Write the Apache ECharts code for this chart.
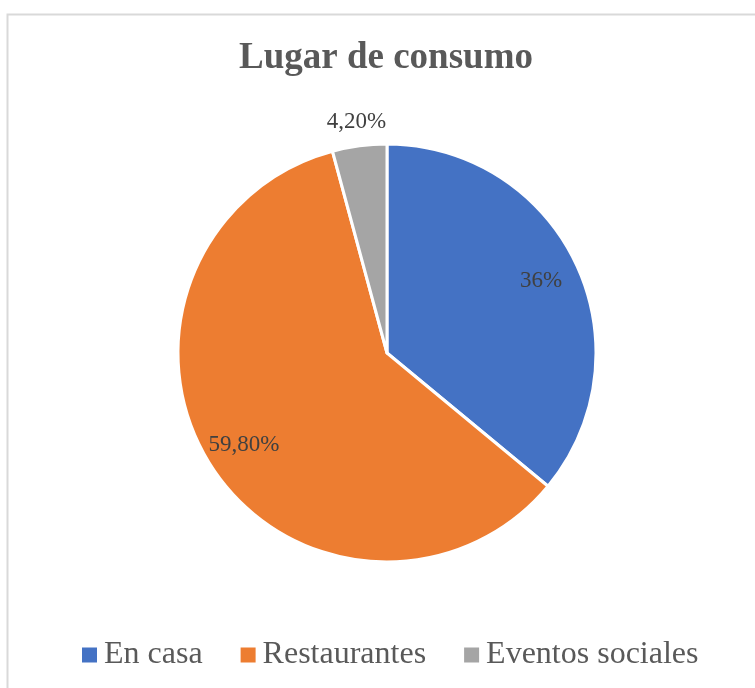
<!DOCTYPE html>
<html>
<head>
<meta charset="utf-8">
<script src="https://cdn.jsdelivr.net/npm/echarts@6/dist/echarts.min.js"></script>
<style>
  html, body { margin: 0; padding: 0; background: #fff; }
  #chart { width: 755px; height: 688px; }
</style>
</head>
<body>
<div id="chart"></div>
<script>
// data
const categories = ['En casa', 'Restaurantes', 'Eventos sociales']
const values = [36, 59.8, 4.2]
const labels = ['36%', '59,80%', '4,20%']
const colors = ['#4472C4', '#ED7D31', '#A5A5A5']

const serif = "'Liberation Serif', 'Times New Roman', serif"
const center = [387, 353]
const R = 209

const chart = echarts.init(document.getElementById('chart'))

// visible slices
const pieData = categories.map((name, i) => ({
  name: name,
  value: values[i],
  itemStyle: { color: colors[i] }
}))

// invisible copies used only to place the labels at a chosen radius
function labelData (showIdx) {
  return categories.map((name, i) => ({
    name: name,
    value: values[i],
    itemStyle: { color: 'rgba(0,0,0,0)', borderWidth: 0 },
    label: { show: showIdx.indexOf(i) >= 0, formatter: labels[i] }
  }))
}

const labelStyle = {
  position: 'inside',
  fontFamily: serif,
  fontSize: 23,
  color: '#404040'
}

chart.setOption({
  animation: false,
  title: {
    text: 'Lugar de consumo',
    left: 234,
    top: 35,
    textStyle: {
      fontFamily: serif,
      fontWeight: 'bold',
      fontSize: 37,
      color: '#595959'
    }
  },
  legend: {
    bottom: 12,
    left: 75,
    icon: 'rect',
    itemWidth: 17,
    itemHeight: 17,
    itemGap: 36,
    data: categories,
    textStyle: {
      fontFamily: serif,
      fontSize: 32,
      color: '#595959',
      padding: [0, 0, 0, 1]
    }
  },
  graphic: [{
    type: 'rect',
    left: 5,
    top: 12,
    shape: { width: 770, height: 700 },
    style: { fill: 'none', stroke: '#d9d9d9', lineWidth: 2 },
    silent: true,
    z: -1
  }],
  series: [{
    type: 'pie',
    center: center,
    radius: [0, R],
    startAngle: 90,
    label: { show: false },
    labelLine: { show: false },
    itemStyle: { borderColor: '#fff', borderWidth: 3 },
    emphasis: { disabled: true },
    data: pieData
  }, {
    type: 'pie',
    center: center,
    radius: [0, R * 0.8 * 2],
    startAngle: 90,
    silent: true,
    legendHoverLink: false,
    label: labelStyle,
    labelLine: { show: false },
    emphasis: { disabled: true },
    data: labelData([0, 1])
  }, {
    type: 'pie',
    center: center,
    radius: [0, R * 1.1 * 2],
    startAngle: 90,
    silent: true,
    legendHoverLink: false,
    label: labelStyle,
    labelLine: { show: false },
    emphasis: { disabled: true },
    data: labelData([2])
  }]
})
</script>
</body>
</html>
